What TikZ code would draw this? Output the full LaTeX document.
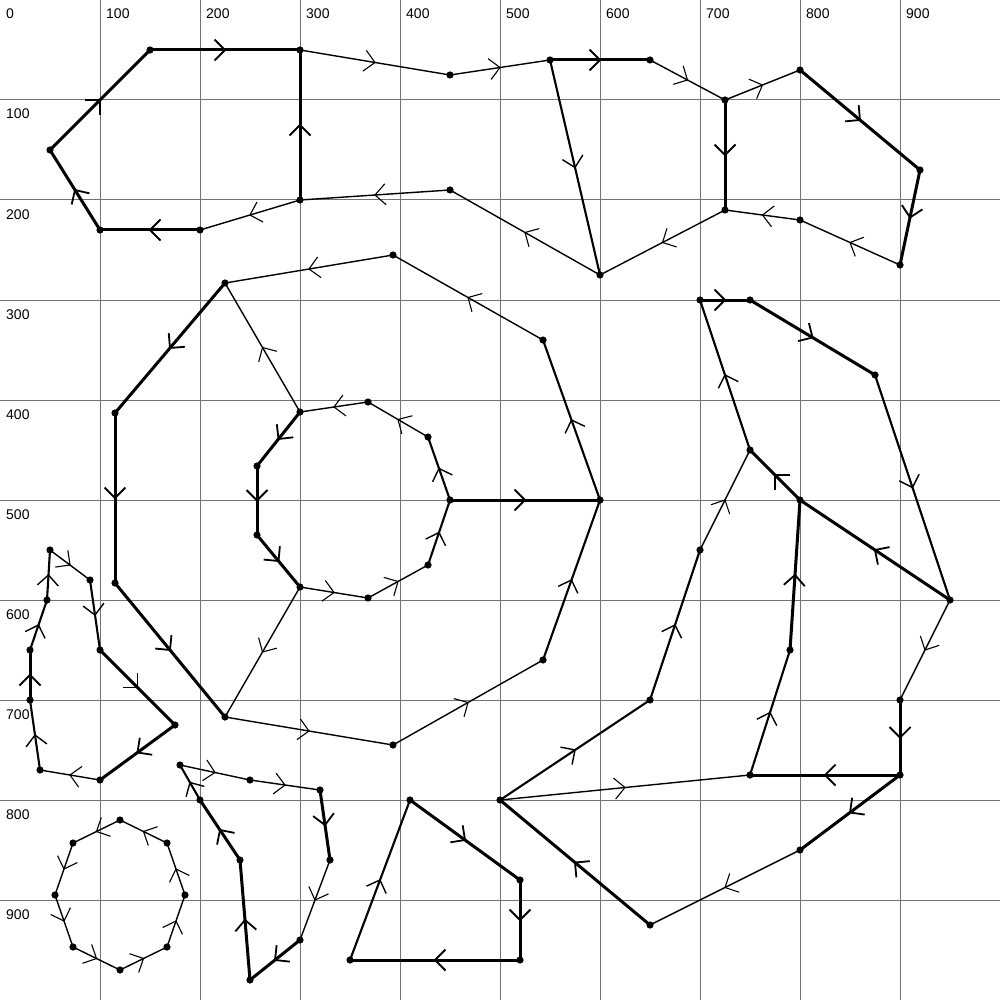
\documentclass[tikz,border=0pt]{standalone}
\usepackage{fontspec}
\setmainfont{Liberation Sans}
\usetikzlibrary{decorations.markings}
\tikzset{
  gridline/.style={draw=black!55, line width=1pt},
  lbl/.style={anchor=base west, inner sep=0pt, font=\fontsize{14}{16}\selectfont},
  chev/.style={postaction={decorate,decoration={markings,mark=at position 0.5 with {\draw[line width=#1, solid, line join=miter] (-10.5pt,10.5pt)--(0pt,0pt)--(-10.5pt,-10.5pt);}}}},
  thk/.style={line width=3pt, chev=1.8pt},
  med/.style={line width=2.1pt, chev=1.4pt},
  thn/.style={line width=1.4pt, chev=1.1pt},
  vdot/.style={fill=black},
}
\begin{document}
\begin{tikzpicture}[x=1pt,y=-1pt]
\fill[white] (0,0) rectangle (1000,1000);
\useasboundingbox (0,0) rectangle (1000,1000);
% grid
\foreach \v in {100,200,...,900} {
  \draw[gridline] (\v,0) -- (\v,1000);
  \draw[gridline] (0,\v) -- (1000,\v);
  \node[lbl] (cx\v) at (\v+6,19) {\v};
  \node[lbl] (ry\v) at (6,\v+19) {\v};
}
\node[lbl] (zero) at (6,19) {0};
% graph A
\coordinate (a1) at (150,50);
\coordinate (a2) at (300,50);
\coordinate (a3) at (50,150);
\coordinate (a4) at (100,230);
\coordinate (a5) at (200,230);
\coordinate (a6) at (300,200);
\coordinate (a7) at (450,75);
\coordinate (a8) at (550,60);
\coordinate (a9) at (650,60);
\coordinate (a10) at (725,100);
\coordinate (a11) at (800,70);
\coordinate (a12) at (920,170);
\coordinate (a13) at (900,265);
\coordinate (a14) at (800,220);
\coordinate (a15) at (725,210);
\coordinate (a16) at (600,275);
\coordinate (a17) at (450,190);
\draw[thk] (a1) -- (a2);
\draw[thk] (a3) -- (a1);
\draw[thk] (a4) -- (a3);
\draw[thk] (a5) -- (a4);
\draw[thn] (a6) -- (a5);
\draw[thk] (a6) -- (a2);
\draw[thn] (a2) -- (a7);
\draw[thn] (a7) -- (a8);
\draw[thk] (a8) -- (a9);
\draw[thn] (a9) -- (a10);
\draw[thn] (a10) -- (a11);
\draw[thk] (a11) -- (a12);
\draw[thk] (a12) -- (a13);
\draw[thn] (a13) -- (a14);
\draw[thn] (a14) -- (a15);
\draw[thk] (a10) -- (a15);
\draw[thn] (a15) -- (a16);
\draw[med] (a8) -- (a16);
\draw[thn] (a16) -- (a17);
\draw[thn] (a17) -- (a6);
% graph B
\coordinate (b1) at (225,283);
\coordinate (b2) at (393,255);
\coordinate (b3) at (543,340);
\coordinate (b4) at (600,500);
\coordinate (b5) at (543,660);
\coordinate (b6) at (393,745);
\coordinate (b7) at (225,717);
\coordinate (b8) at (115,583);
\coordinate (b9) at (115,413);
\coordinate (c1) at (300,412);
\coordinate (c2) at (368,402);
\coordinate (c3) at (428,437);
\coordinate (c4) at (450,500);
\coordinate (c5) at (428,565);
\coordinate (c6) at (368,598);
\coordinate (c7) at (300,587);
\coordinate (c8) at (257,535);
\coordinate (c9) at (257,466);
\draw[thn] (b2) -- (b1);
\draw[thn] (b3) -- (b2);
\draw[med] (b4) -- (b3);
\draw[med] (b5) -- (b4);
\draw[thn] (b6) -- (b5);
\draw[thn] (b7) -- (b6);
\draw[thk] (b8) -- (b7);
\draw[thk] (b9) -- (b8);
\draw[thk] (b1) -- (b9);
\draw[thn] (c1) -- (b1);
\draw[thn] (c7) -- (b7);
\draw[thk] (c4) -- (b4);
\draw[thn] (c2) -- (c1);
\draw[thn] (c3) -- (c2);
\draw[med] (c4) -- (c3);
\draw[med] (c5) -- (c4);
\draw[thn] (c6) -- (c5);
\draw[thn] (c7) -- (c6);
\draw[thk] (c8) -- (c7);
\draw[thk] (c9) -- (c8);
\draw[thk] (c1) -- (c9);
% graph C
\coordinate (d1) at (700,300);
\coordinate (d2) at (750,300);
\coordinate (d3) at (875,375);
\coordinate (d4) at (950,600);
\coordinate (d5) at (900,700);
\coordinate (d6) at (900,775);
\coordinate (d7) at (750,775);
\coordinate (d8) at (800,500);
\coordinate (d9) at (750,450);
\coordinate (d10) at (700,550);
\coordinate (d11) at (650,700);
\coordinate (d12) at (500,800);
\coordinate (d13) at (650,925);
\coordinate (d14) at (800,850);
\coordinate (d15) at (790,650);
\draw[thk] (d1) -- (d2);
\draw[thk] (d2) -- (d3);
\draw[med] (d3) -- (d4);
\draw[thk] (d4) -- (d8);
\draw[thk] (d8) -- (d9);
\draw[med] (d9) -- (d1);
\draw[thn] (d10) -- (d9);
\draw[med] (d11) -- (d10);
\draw[med] (d12) -- (d11);
\draw[thn] (d12) -- (d7);
\draw[thk] (d13) -- (d12);
\draw[thn] (d14) -- (d13);
\draw[thk] (d6) -- (d14);
\draw[thk] (d6) -- (d7);
\draw[thk] (d5) -- (d6);
\draw[thn] (d4) -- (d5);
\draw[med] (d7) -- (d15);
\draw[thk] (d15) -- (d8);
% graph D
\coordinate (e1) at (50,550);
\coordinate (e2) at (90,580);
\coordinate (e3) at (100,650);
\coordinate (e4) at (175,725);
\coordinate (e5) at (100,780);
\coordinate (e6) at (40,770);
\coordinate (e7) at (30,700);
\coordinate (e8) at (30,650);
\coordinate (e9) at (47,600);
\draw[thn] (e1) -- (e2);
\draw[med] (e2) -- (e3);
\draw[thk] (e3) -- (e4);
\draw[thk] (e4) -- (e5);
\draw[thn] (e5) -- (e6);
\draw[med] (e6) -- (e7);
\draw[thk] (e7) -- (e8);
\draw[med] (e8) -- (e9);
\draw[med] (e9) -- (e1);
% graph E
\coordinate (f1) at (120,820);
\coordinate (f2) at (167,843);
\coordinate (f3) at (185,895);
\coordinate (f4) at (167,947);
\coordinate (f5) at (120,970);
\coordinate (f6) at (73,947);
\coordinate (f7) at (55,895);
\coordinate (f8) at (73,843);
\draw[thn] (f2) -- (f1);
\draw[thn] (f1) -- (f8);
\draw[thn] (f8) -- (f7);
\draw[thn] (f7) -- (f6);
\draw[thn] (f6) -- (f5);
\draw[thn] (f5) -- (f4);
\draw[thn] (f4) -- (f3);
\draw[thn] (f3) -- (f2);
% graph F
\coordinate (g1) at (180,765);
\coordinate (g2) at (250,780);
\coordinate (g3) at (320,790);
\coordinate (g4) at (330,860);
\coordinate (g5) at (300,940);
\coordinate (g6) at (250,980);
\coordinate (g7) at (240,860);
\coordinate (g8) at (200,800);
\draw[thn] (g1) -- (g2);
\draw[thn] (g2) -- (g3);
\draw[thk] (g3) -- (g4);
\draw[thn] (g4) -- (g5);
\draw[thk] (g5) -- (g6);
\draw[thk] (g6) -- (g7);
\draw[thk] (g7) -- (g8);
\draw[med] (g8) -- (g1);
% graph G
\coordinate (h1) at (350,960);
\coordinate (h2) at (410,800);
\coordinate (h3) at (520,880);
\coordinate (h4) at (520,960);
\draw[med] (h1) -- (h2);
\draw[thk] (h2) -- (h3);
\draw[thk] (h3) -- (h4);
\draw[thk] (h4) -- (h1);
% vertex dots
\foreach \n in {a1,a2,a3,a4,a5,a6,a7,a8,a9,a10,a11,a12,a13,a14,a15,a16,a17,
  b1,b2,b3,b4,b5,b6,b7,b8,b9,c1,c2,c3,c4,c5,c6,c7,c8,c9,
  d1,d2,d3,d4,d5,d6,d7,d8,d9,d10,d11,d12,d13,d14,d15,
  e1,e2,e3,e4,e5,e6,e7,e8,e9,f1,f2,f3,f4,f5,f6,f7,f8,
  g1,g2,g3,g4,g5,g6,g7,g8,h1,h2,h3,h4}
  \fill[vdot] (\n) circle[radius=3.6pt];
\end{tikzpicture}
\end{document}
